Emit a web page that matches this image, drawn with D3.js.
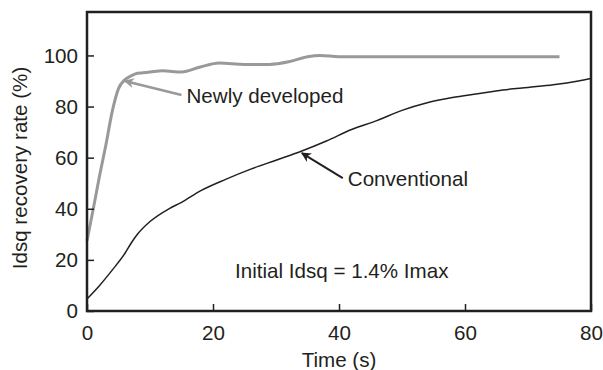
<!DOCTYPE html>
<html>
<head>
<meta charset="utf-8">
<script src="https://cdn.jsdelivr.net/npm/d3@7"></script>
<style>
  body { margin: 0; background: #fff; }
  text { font-family: "Liberation Sans", Arial, sans-serif; fill: #231f20; }
</style>
</head>
<body>
<div id="chart"></div>
<script>
// values
const conventional = [
  [0, 4.7], [2, 10], [4, 16], [6, 22.5], [7, 26.5], [8, 30], [10, 35], [13, 40],
  [15, 42.5], [18, 47], [22, 51.5], [26, 55.5], [30, 59], [34, 62.5], [38, 66.5],
  [42, 71], [46, 74.5], [50, 78.5], [54, 81.5], [58, 83.5], [62, 85], [66, 86.5],
  [70, 87.5], [74, 88.5], [78, 90], [80, 91]
];
const newlyDeveloped = [
  [0, 27.5], [1, 40], [2, 53], [3, 65], [4, 78], [5, 87], [6, 90.5], [7, 92],
  [8, 93], [10, 93.5], [12, 94], [15, 93.5], [18, 95.5], [21, 97], [25, 96.5],
  [29, 96.5], [32, 97.5], [35, 99.5], [37, 100], [40, 99.5], [75, 99.5]
];
const xTicks = [0, 20, 40, 60, 80];
const yTicks = [0, 20, 40, 60, 80, 100];
const annotations = [
  { text: "Newly developed", tip: [6, 90], tail: [15, 84.5], color: "#999" },
  { text: "Conventional", tip: [34.1, 61.8], tail: [40.6, 52], color: "#231f20" }
];
const note = "Initial Idsq = 1.4% Imax";

const width = 603, height = 370;
const x = d3.scaleLinear().domain([0, 80]).range([87, 591]);
const y = d3.scaleLinear().domain([0, 117]).range([311, 12]);

const svg = d3.select("#chart").append("svg")
    .attr("width", width)
    .attr("height", height);

const defs = svg.append("defs");
annotations.forEach((a, i) => {
    defs.append("marker")
        .attr("id", "arrow" + i)
        .attr("viewBox", "0 0 10 10")
        .attr("refX", 9).attr("refY", 5)
        .attr("markerWidth", 10).attr("markerHeight", 10)
        .attr("markerUnits", "userSpaceOnUse")
        .attr("orient", "auto")
        .append("path")
        .attr("d", "M0,0 L10,5 L0,10 L3,5 Z")
        .attr("fill", a.color);
});

const line = d3.line().x(d => x(d[0])).y(d => y(d[1])).curve(d3.curveMonotoneX);

// curves
svg.append("path").datum(conventional)
    .attr("d", line)
    .attr("fill", "none")
    .attr("stroke", "#231f20")
    .attr("stroke-width", 1.5);

svg.append("path").datum(newlyDeveloped)
    .attr("d", line)
    .attr("fill", "none")
    .attr("stroke", "#999")
    .attr("stroke-width", 3);

// arrows + labels
annotations.forEach((a, i) => {
    svg.append("line")
        .attr("x1", x(a.tail[0])).attr("y1", y(a.tail[1]))
        .attr("x2", x(a.tip[0])).attr("y2", y(a.tip[1]))
        .attr("stroke", a.color)
        .attr("stroke-width", i == 0 ? 2.5 : 2)
        .attr("marker-end", "url(#arrow" + i + ")");
    svg.append("text")
        .text(a.text)
        .attr("x", x(a.tail[0]) + 5)
        .attr("y", y(a.tail[1]) + 8)
        .attr("font-size", 20.6);
});

svg.append("text")
    .text(note)
    .attr("x", 235).attr("y", 278)
    .attr("font-size", 20.6);

// axes, ticks inward
const axisColor = "#231f20";
const xAxis = svg.append("g")
    .attr("transform", `translate(0,${y(0)})`)
    .call(d3.axisBottom(x).tickValues(xTicks).tickSizeInner(-7).tickSizeOuter(0).tickPadding(14));
const yAxis = svg.append("g")
    .attr("transform", `translate(${x(0)},0)`)
    .call(d3.axisLeft(y).tickValues(yTicks).tickSizeInner(-7).tickSizeOuter(0).tickPadding(9));

[xAxis, yAxis].forEach(g => {
    g.select(".domain").remove();
    g.selectAll(".tick line").attr("stroke", axisColor).attr("stroke-width", 1.5);
    g.selectAll(".tick text")
        .attr("font-size", 20.6)
        .attr("font-family", "Liberation Sans, Arial, sans-serif")
        .attr("fill", axisColor);
});

// frame
svg.append("rect")
    .attr("x", x(0)).attr("y", y(117))
    .attr("width", x(80) - x(0))
    .attr("height", y(0) - y(117))
    .attr("fill", "none")
    .attr("stroke", axisColor)
    .attr("stroke-width", 2.5);

// axis titles
svg.append("text")
    .text("Time (s)")
    .attr("x", (x(0) + x(80)) / 2).attr("y", 367)
    .attr("text-anchor", "middle")
    .attr("font-size", 20.6);

svg.append("text")
    .text("Idsq recovery rate (%)")
    .attr("transform", `translate(27,168) rotate(-90)`)
    .attr("text-anchor", "middle")
    .attr("font-size", 20.6);
</script>
</body>
</html>
